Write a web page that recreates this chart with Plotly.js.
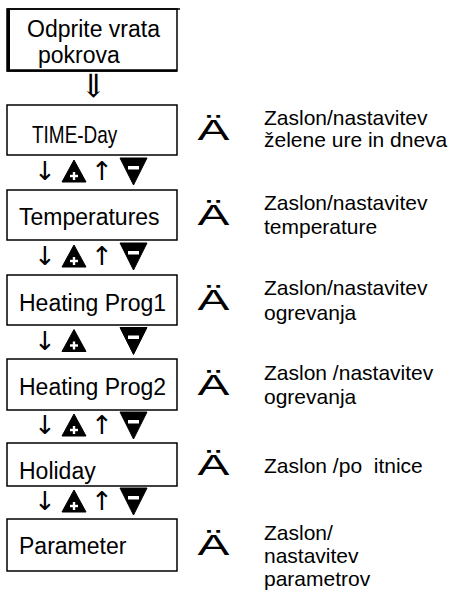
<!DOCTYPE html>
<html>
<head>
<meta charset="utf-8">
<script src="https://cdn.plot.ly/plotly-3.0.1.min.js"></script>
<style>html,body{margin:0;padding:0;background:#fff;}#chart{width:452px;height:592px;}</style>
</head>
<body>
<div id="chart"></div>
<script>
// ---- content ----
const startLines = ["Odprite vrata", "pokrova"];
const startArrow = "\u21D3";
const boxLabels = ["TIME-Day", "Temperatures", "Heating Prog1", "Heating Prog2", "Holiday", "Parameter"];
const displaySymbol = "Ä";
const descriptions = [
  ["Zaslon/nastavitev", "želene ure in dneva"],
  ["Zaslon/nastavitev", "temperature"],
  ["Zaslon/nastavitev", "ogrevanja"],
  ["Zaslon /nastavitev", "ogrevanja"],
  ["Zaslon /po  itnice"],
  ["Zaslon/", "nastavitev", "parametrov"]
];
const downArrow = "\u2193\uFE0E";
const upArrow = "\u2191\uFE0E";
const rowHasUp = [true, true, false, true, true];

// ---- layout constants ----
const W = 452, H = 592;
const boxX0 = 7, boxX1 = 177;
const boxTop = [105, 190, 275, 359, 443, 519];
const boxBot = [155, 240, 325, 410, 486, 571];
const labelDy = [4, 2, 3, 2, 6, 1];
const labelX = [30, 17, 17, 17, 17, 17];
const labelSize = [24, 23, 23, 23, 23, 23];
const labelScaleX = [0.79, 1, 1, 1, 1, 1];
const symX = 214, descX = 262;
const descPitch = [22, 24, 24.5, 24, 24, 23];
const boxFont = "Liberation Sans, Arial, sans-serif";
const arrowFont = "'DejaVu Sans', 'DejaVu Sans Mono', sans-serif";
const dblArrowFont = "'DejaVu Serif', 'DejaVu Sans Mono', 'Liberation Serif', 'Noto Sans', 'Noto Sans CJK SC', serif";

const shapes = [];
const annotations = [];
const black = "#000";
const scaleMap = []; // [text, scaleX, origin]

// start box
shapes.push({type: "rect", xref: "x", yref: "y", x0: boxX0, x1: boxX1, y0: 9, y1: 71, line: {color: black, width: 1.5}});
shapes.push({type: "line", xref: "x", yref: "y", x0: 8.5, x1: 8.5, y0: 9, y1: 71, line: {color: black, width: 3}});
shapes.push({type: "line", xref: "x", yref: "y", x0: boxX0, x1: boxX1, y0: 70.5, y1: 70.5, line: {color: black, width: 2.5}});
shapes.push({type: "line", xref: "x", yref: "y", x0: boxX0, x1: 180, y0: 9, y1: 9, line: {color: black, width: 1.5}});
annotations.push({x: 25, y: 29, text: startLines[0], xanchor: "left", yanchor: "middle"});
annotations.push({x: 36, y: 55, text: startLines[1], xanchor: "left", yanchor: "middle"});
annotations.push({x: 93, y: 86, text: startArrow, xanchor: "center", yanchor: "middle",
  font: {family: dblArrowFont, size: 32, color: black}});

boxLabels.forEach((lab, i) => {
  const cy = (boxTop[i] + boxBot[i]) / 2;
  shapes.push({type: "rect", xref: "x", yref: "y", x0: boxX0, x1: boxX1, y0: boxTop[i], y1: boxBot[i],
    line: {color: black, width: 1.5}});
  annotations.push({x: labelX[i], y: cy + labelDy[i], text: lab, xanchor: "left", yanchor: "middle",
    font: {family: boxFont, size: labelSize[i], color: black}});
  if (labelScaleX[i] !== 1) scaleMap.push([lab, labelScaleX[i], "left"]);
  annotations.push({x: symX, y: cy, text: displaySymbol, xanchor: "center", yanchor: "middle",
    font: {family: boxFont, size: 29, color: black}});
  const lines = descriptions[i];
  const first = lines.length > 1 ? cy - 12.5 : cy + 1;
  lines.forEach((ln, k) => {
    annotations.push({x: descX, y: first + k * descPitch[i], text: ln, xanchor: "left", yanchor: "middle",
      font: {family: boxFont, size: 21, color: black}});
  });
});
scaleMap.push([displaySymbol, 1.65, "center"]);

// navigation rows
rowHasUp.forEach((up, i) => {
  const cy = (boxBot[i] + boxTop[i + 1]) / 2 - 1.5;
  annotations.push({x: 45, y: cy, text: downArrow, xanchor: "center", yanchor: "middle",
    font: {family: arrowFont, size: 26, color: black}});
  if (up) annotations.push({x: 102, y: cy, text: upArrow, xanchor: "center", yanchor: "middle",
    font: {family: arrowFont, size: 26, color: black}});
  const px = 74;
  shapes.push({type: "path", xref: "x", yref: "y",
    path: `M ${px},${cy - 11} L ${px + 12},${cy + 11} L ${px - 12},${cy + 11} Z`,
    fillcolor: black, line: {color: black, width: 1}});
  shapes.push({type: "rect", xref: "x", yref: "y", x0: px - 4, x1: px + 4, y0: cy + 3.8, y1: cy + 6.2,
    fillcolor: "#fff", line: {width: 0}});
  shapes.push({type: "rect", xref: "x", yref: "y", x0: px - 1.2, x1: px + 1.2, y0: cy + 1, y1: cy + 9,
    fillcolor: "#fff", line: {width: 0}});
  const mx = 133.5;
  shapes.push({type: "path", xref: "x", yref: "y",
    path: `M ${mx - 13.5},${cy - 13} L ${mx + 13.5},${cy - 13} L ${mx},${cy + 14} Z`,
    fillcolor: black, line: {color: black, width: 1}});
  shapes.push({type: "rect", xref: "x", yref: "y", x0: mx - 5.5, x1: mx + 5.5, y0: cy - 5, y1: cy - 1.5,
    fillcolor: "#fff", line: {width: 0}});
});

annotations.forEach(a => {
  a.xref = "x"; a.yref = "y"; a.showarrow = false;
  if (!a.font) a.font = {family: boxFont, size: 23, color: black};
});

const layout = {
  width: W, height: H,
  margin: {l: 0, r: 0, t: 0, b: 0, pad: 0},
  paper_bgcolor: "#fff", plot_bgcolor: "#fff",
  xaxis: {range: [0, W], visible: false, fixedrange: true},
  yaxis: {range: [H, 0], visible: false, fixedrange: true},
  showlegend: false,
  shapes: shapes,
  annotations: annotations
};

const gd = document.getElementById("chart");
Plotly.newPlot(gd, [], layout, {displayModeBar: false, staticPlot: true}).then(() => {
  gd.querySelectorAll("text.annotation-text").forEach(t => {
    scaleMap.forEach(([txt, s, origin]) => {
      if (t.textContent === txt) {
        const bb = t.getBBox();
        const ox = origin === "left" ? bb.x : bb.x + bb.width / 2;
        const oy = bb.y + bb.height / 2;
        t.setAttribute("transform", `translate(${ox},${oy}) scale(${s},1) translate(${-ox},${-oy})`);
      }
    });
  });
});
</script>
</body>
</html>
